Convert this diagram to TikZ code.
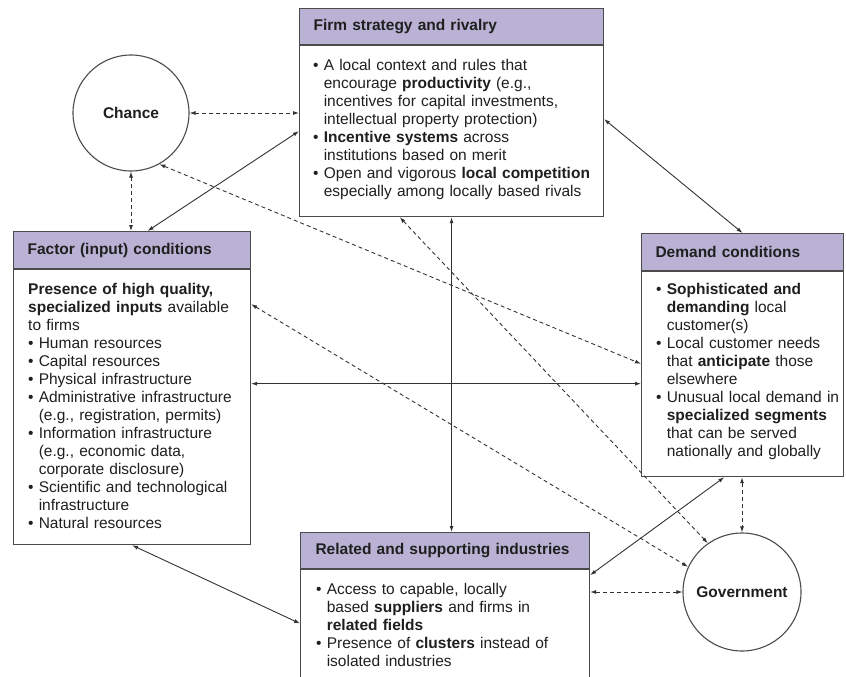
\documentclass[tikz,border=0pt]{standalone}
\usepackage{fontspec}
\setmainfont{Liberation Sans}
\usetikzlibrary{arrows.meta,calc}
\definecolor{hdrfill}{RGB}{186,178,212}
\definecolor{edgegray}{RGB}{75,75,75}
\newcommand{\bul}{\textbullet\ }
\newcommand{\ind}{\hphantom{\textbullet\ }}

\begin{document}
\begin{tikzpicture}[x=1pt,y=-1pt,
    every node/.style={font=\fontsize{15.5}{18}\selectfont,text=black!88},
    hdr/.style={draw=edgegray,line width=1.1pt,fill=hdrfill,anchor=north west,
      inner xsep=14pt,align=left,font=\fontsize{15.5}{18}\selectfont\bfseries},
    body/.style={draw=edgegray,line width=1.1pt,fill=white,anchor=north west},
    txt/.style={anchor=base west,align=left,inner sep=0pt,text width=290pt},
    ctr/.style={circle,draw=edgegray,line width=1.1pt,fill=white,inner sep=0pt,
      font=\fontsize{15.5}{18}\selectfont\bfseries},
    link/.style={<->,line width=0.9pt,draw=black!80},
    dlink/.style={link,dash pattern=on 4pt off 3pt},
    >={Latex[length=6pt,width=4pt]}]
  \useasboundingbox (0,0) rectangle (846,677);
  % Circles
  \node[ctr,minimum size=116pt] (chance) at (131,113) {Chance};
  \node[ctr,minimum size=118pt] (gov) at (742,592) {Government};
  % Firm strategy and rivalry
  \node[hdr,text width=276pt,minimum height=36pt] (firmh) at (299,8) {Firm strategy and rivalry};
  \node[body,minimum width=304pt,minimum height=171pt] (firm) at (firmh.south west) {};
  \node[txt] at ([xshift=14pt,yshift=-25pt]firm.north west)
    {\bul A local context and rules that\\
     \ind encourage \textbf{productivity} (e.g.,\\
     \ind incentives for capital investments,\\
     \ind intellectual property protection)\\
     \bul \textbf{Incentive systems} across\\
     \ind institutions based on merit\\
     \bul Open and vigorous \textbf{local competition}\\
     \ind especially among locally based rivals};
  % Factor (input) conditions
  \node[hdr,text width=209pt,minimum height=37pt] (facth) at (13,231) {Factor (input) conditions};
  \node[body,minimum width=237pt,minimum height=275pt] (fact) at (facth.south west) {};
  \node[txt] at ([xshift=15pt,yshift=-25pt]fact.north west)
    {\textbf{Presence of high quality,}\\
     \textbf{specialized inputs} available\\
     to firms\\
     \bul Human resources\\
     \bul Capital resources\\
     \bul Physical infrastructure\\
     \bul Administrative infrastructure\\
     \ind (e.g., registration, permits)\\
     \bul Information infrastructure\\
     \ind (e.g., economic data,\\
     \ind corporate disclosure)\\
     \bul Scientific and technological\\
     \ind infrastructure\\
     \bul Natural resources};
  % Demand conditions
  \node[hdr,text width=174pt,minimum height=37pt,inner xsep=14pt] (demandh) at (641,233) {Demand conditions};
  \node[body,minimum width=202pt,minimum height=205pt] (demand) at (demandh.south west) {};
  \node[txt] at ([xshift=15pt,yshift=-23pt]demand.north west)
    {\bul \textbf{Sophisticated and}\\
     \ind \textbf{demanding} local\\
     \ind customer(s)\\
     \bul Local customer needs\\
     \ind that \textbf{anticipate} those\\
     \ind elsewhere\\
     \bul Unusual local demand in\\
     \ind \textbf{specialized segments}\\
     \ind that can be served\\
     \ind nationally and globally};
  % Related and supporting industries
  \node[hdr,text width=259pt,minimum height=36pt,inner xsep=15pt] (relh) at (300,532) {Related and supporting industries};
  \node[body,minimum width=289pt,minimum height=150pt] (rel) at (relh.south west) {};
  \node[txt] at ([xshift=16pt,yshift=-25pt]rel.north west)
    {\bul Access to capable, locally\\
     \ind based \textbf{suppliers} and firms in\\
     \ind \textbf{related fields}\\
     \bul Presence of \textbf{clusters} instead of\\
     \ind isolated industries};
  % Edges
  \draw[dlink] (chance.east) -- (chance.east -| firm.west);
  \draw[dlink] (chance.south) -- (chance.south |- facth.north);
  \draw[link] ($(facth.north west)!0.565!(facth.north east)$) -- (firm.west);
  \draw[dlink] (chance.-61) -- ($(demand.north west)!0.45!(demand.south west)$);
  \draw[dlink] ($(firm.south west)!0.33!(firm.south east)$) -- (gov.125);
  \draw[dlink] ($(fact.north east)!0.127!(fact.south east)$) -- (gov.155);
  \draw[link] ($(firm.north east)!0.43!(firm.south east)$) -- (demandh.north);
  \draw[link] (firm.south) -- (firm.south |- relh.north);
  \draw[link] ($(fact.north east)!0.415!(fact.south east)$) coordinate (fd) -- (fd -| demand.west);
  \draw[link] (fact.south) -- ($(rel.north west)!0.36!(rel.south west)$);
  \draw[link] ($(demand.south west)!0.41!(demand.south east)$) -- ($(rel.north east)!0.04!(rel.south east)$);
  \draw[dlink] (gov.north |- demand.south) -- (gov.north);
  \draw[dlink] (gov.west) -- (gov.west -| rel.east);
\end{tikzpicture}
\end{document}
